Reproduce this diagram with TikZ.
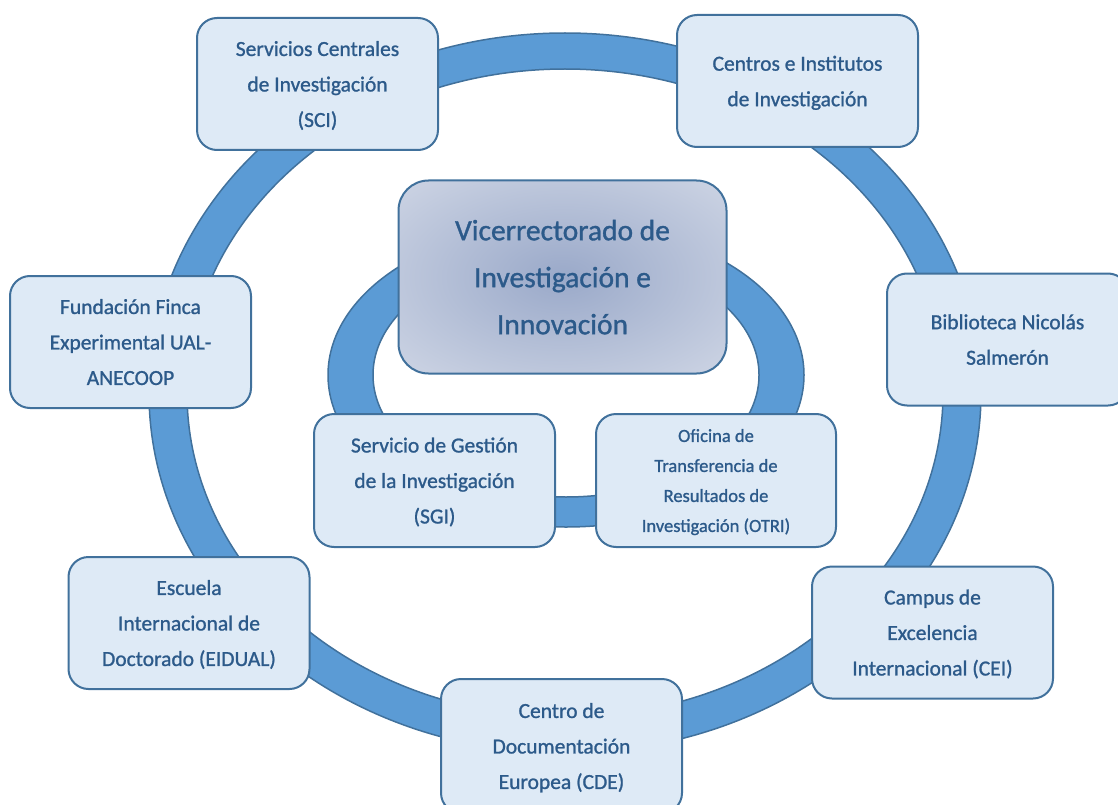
\documentclass[tikz,border=0pt]{standalone}
\usepackage{fontspec}
\setmainfont{Carlito}
\newfontfamily\unitfont{Carlito}[FakeBold=1.1]
\usetikzlibrary{positioning}

\definecolor{boxfill}{HTML}{DEEAF6}
\definecolor{boxline}{HTML}{41719C}
\definecolor{ringfill}{HTML}{5B9BD5}
\definecolor{boxtext}{HTML}{2C5A8A}
\definecolor{hubin}{HTML}{9AA9C9}
\definecolor{hubout}{HTML}{DCE1EC}
\pgfdeclareradialshading{hubshade}{\pgfpoint{0bp}{0bp}}{color(0bp)=(hubin); color(46bp)=(hubout); color(50bp)=(hubout)}

\begin{document}
\begin{tikzpicture}[
    x=1pt, y=-1pt,
    ring/.style={fill=ringfill, draw=boxline, line width=1.5pt, even odd rule},
    unit/.style={rectangle, rounded corners=20pt, minimum width=241pt, minimum height=132pt, align=center, draw=boxline, line width=2pt, fill=boxfill, text=boxtext, text depth=0pt, font=\unitfont\fontsize{21.5}{35.5}\selectfont},
    smallunit/.style={unit, font=\unitfont\fontsize{18.5}{30}\selectfont},
    hub/.style={rectangle, rounded corners=30pt, minimum width=328pt, minimum height=193pt, align=center, draw=boxline, line width=2pt, shade, shading=hubshade, text=boxtext, text depth=0pt, font=\unitfont\fontsize{29.5}{47}\selectfont},
]
    \useasboundingbox (0,0) rectangle (1118,805);

    % outer ring
    \coordinate (bigc) at (565,393);
    \draw [ring] (bigc) ellipse [x radius=416, y radius=360] (bigc) ellipse [x radius=378, y radius=324];

    % inner ring
    \coordinate (smallc) at (566,375);
    \draw [ring] (smallc) ellipse [x radius=238, y radius=152] (smallc) ellipse [x radius=193, y radius=122];

    % units around the ring
    \node (sci) [unit] at (317.5,84) {Servicios Centrales\\de Investigación\\(SCI)};
    \node (cii) [unit] at (797.5,81) {Centros e Institutos\\de Investigación};
    \node (biblio) [unit] at (1007.5,339.5) {Biblioteca Nicolás\\Salmerón};
    \node (cei) [unit] at (932.5,632.5) {Campus de\\Excelencia\\Internacional (CEI)};
    \node (cde) [unit, minimum height=134pt] at (561.5,746) {Centro de\\Documentación\\Europea (CDE)};
    \node (eidual) [unit] at (189,623) {Escuela\\Internacional de\\Doctorado (EIDUAL)};
    \node (finca) [unit] at (130.5,342) {Fundación Finca\\Experimental UAL-\\ANECOOP};

    % centre
    \node (vicerr) [hub] at (562.5,277) {Vicerrectorado de\\Investigación e\\Innovación};
    \node (sgi) [unit, minimum height=133pt] at (434.5,480.5) {Servicio de Gestión\\de la Investigación\\(SGI)};
    \node (otri) [smallunit, minimum width=240pt, minimum height=133pt] at (716,480.5) {Oficina de\\Transferencia de\\Resultados de\\Investigación (OTRI)};

\end{tikzpicture}
\end{document}
